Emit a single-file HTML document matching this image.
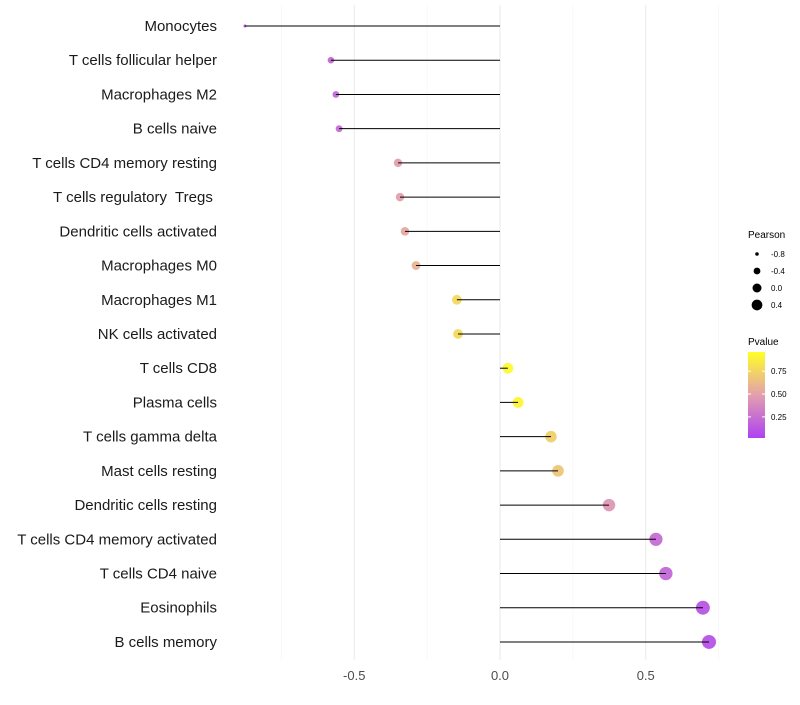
<!DOCTYPE html>
<html><head><meta charset="utf-8"><style>
body{margin:0;background:#fff;font-family:"Liberation Sans",sans-serif}
text{white-space:pre}
</style></head><body>
<svg id="c" width="800" height="700" xmlns="http://www.w3.org/2000/svg">
<defs><linearGradient id="pg" x1="0" y1="1" x2="0" y2="0">
<stop offset="0" stop-color="#a020f0"/><stop offset="0.5" stop-color="#dd8fa0"/><stop offset="1" stop-color="#ffff00"/></linearGradient></defs>
</svg>
<script>
const categories=["Monocytes","T cells follicular helper","Macrophages M2","B cells naive","T cells CD4 memory resting","T cells regulatory  Tregs ","Dendritic cells activated","Macrophages M0","Macrophages M1","NK cells activated","T cells CD8","Plasma cells","T cells gamma delta","Mast cells resting","Dendritic cells resting","T cells CD4 memory activated","T cells CD4 naive","Eosinophils","B cells memory"];
const pearson=[-0.875,-0.58,-0.563,-0.552,-0.35,-0.343,-0.326,-0.288,-0.148,-0.144,0.027,0.062,0.175,0.199,0.374,0.535,0.569,0.696,0.717];
const pvalue=[0.04,0.2,0.2,0.22,0.5,0.5,0.55,0.6,0.8,0.8,0.97,0.95,0.75,0.7,0.45,0.22,0.2,0.1,0.08];
const xTicks=[-0.5,0,0.5];
const xTickLabels=["-0.5","0.0","0.5"];
const minorTicks=[-0.75,-0.25,0.25,0.75];
const sizeLegend=[-0.8,-0.4,0.0,0.4];
const sizeLegendLabels=["-0.8","-0.4","0.0","0.4"];
const colorLegend=[0.25,0.5,0.75];
const colorLegendLabels=["0.25","0.50","0.75"];

const NS="http://www.w3.org/2000/svg";
const svg=document.getElementById('c');
const x=v=>500+v*291.5;
const y=i=>26+i*34.22;
const r=v=>Math.sqrt(Math.max(1,27.9+29.4*v));
function hex(c){return [1,3,5].map(k=>parseInt(c.substr(k,2),16));}
function col(p){const s=[[0,hex('#a020f0')],[0.5,hex('#dd8fa0')],[1,hex('#ffff00')]];
 let a=s[0],b=s[1];if(p>0.5){a=s[1];b=s[2];}
 const t=(p-a[0])/(b[0]-a[0]);return 'rgb('+a[1].map((v,k)=>Math.round(v+(b[1][k]-v)*t)).join(',')+')';}
function mk(tag,attrs,parent){const e=document.createElementNS(NS,tag);for(const k in attrs)e.setAttribute(k,attrs[k]);(parent||svg).appendChild(e);return e;}
minorTicks.forEach(v=>{const l=mk('line',{x1:x(v),x2:x(v),y1:5,y2:660,stroke:'#f2f2f2','stroke-width':0.6});

});
xTicks.forEach((v,i)=>{const l=mk('line',{x1:x(v),x2:x(v),y1:5,y2:660,stroke:'#ebebeb','stroke-width':1.1});


const t=mk('text',{x:x(v),y:680,'text-anchor':'middle','font-size':13,fill:'#4d4d4d'});t.textContent=xTickLabels[i];

});
categories.forEach((c,i)=>{
 const t=mk('text',{x:217,y:y(i)+5,'text-anchor':'end','font-size':15,fill:'#1a1a1a'});t.textContent=c;
 
 
 const d=mk('circle',{cx:x(pearson[i]),cy:y(i),r:r(pearson[i]),fill:col(pvalue[i]),'fill-opacity':0.8});
 
 
 const l=mk('line',{x1:x(0),x2:x(pearson[i]),y1:y(i),y2:y(i),stroke:'#000','stroke-width':1});
 
 
});
const lt=mk('text',{x:748,y:238,'font-size':10,fill:'#000'});lt.textContent='Pearson';


sizeLegend.forEach((v,i)=>{const cy=254+i*17;
 const c=mk('circle',{cx:757,cy:cy,r:r(v)*0.85,fill:'#000'});
 
 
 const t=mk('text',{x:771,y:cy+3,'font-size':8,fill:'#000'});t.textContent=sizeLegendLabels[i];
 
 });
const ct=mk('text',{x:748,y:345,'font-size':10,fill:'#000'});ct.textContent='Pvalue';


const bar=mk('rect',{x:748,y:352,width:17,height:86,fill:'url(#pg)','fill-opacity':0.85});


colorLegend.forEach((v,i)=>{const yy=437-(v-0.03)/(0.96-0.03)*85;
 mk('line',{x1:748,x2:751,y1:yy,y2:yy,stroke:'#fff'});mk('line',{x1:762,x2:765,y1:yy,y2:yy,stroke:'#fff'});
 const t=mk('text',{x:771,y:yy+3,'font-size':8,fill:'#000'});t.textContent=colorLegendLabels[i];
 
 });
</script>
</body></html>
